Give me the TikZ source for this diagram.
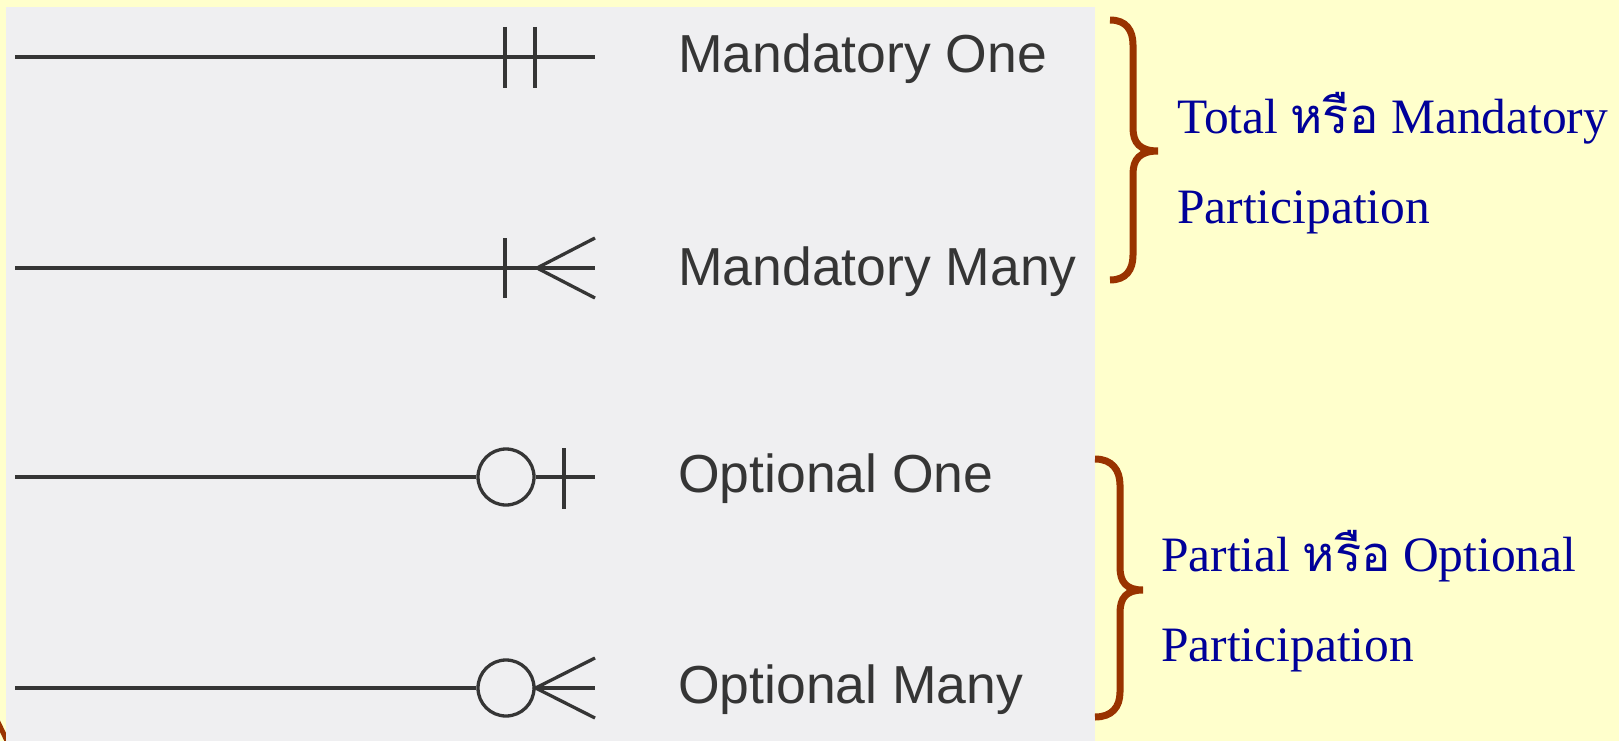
\documentclass[tikz,border=0pt]{standalone}
\usepackage{fontspec}
\setmainfont{Liberation Serif}
\newfontfamily\labelfont{Liberation Sans}
\newfontfamily\thaifont[Script=Thai]{Loma}
\definecolor{slidebg}{HTML}{FFFFCC}
\definecolor{paper}{HTML}{EFEFF1}
\definecolor{ink}{HTML}{353535}
\definecolor{bracecol}{HTML}{993300}
\definecolor{notecol}{HTML}{000099}
\newcommand{\thaiword}[1]{{\thaifont\fontsize{49}{56}\selectfont #1}}
\begin{document}
\begin{tikzpicture}[x=1pt,y=-1pt,
  symline/.style={draw=ink,line width=3.3pt},
  ring/.style={circle,draw=ink,line width=3.3pt,minimum size=56pt,inner sep=0pt},
  kind/.style={anchor=base west,inner sep=0pt,text=ink,font=\labelfont\fontsize{53.5}{60}\selectfont},
  note/.style={anchor=base west,inner sep=0pt,text=notecol,font=\fontsize{49.5}{56}\selectfont},
  bracestroke/.style={draw=bracecol,line width=7pt}]
\useasboundingbox (0,0) rectangle (1619,741);
% slide background and scanned panel
\fill[slidebg] (0,0) rectangle (1619,741);
\draw[bracecol,line width=5pt] (-3,720) -- (9,745);
\fill[paper] (6,7) rectangle (1095,741);

% --- Mandatory One ---
\coordinate (a0) at (15,57);
\coordinate (a1) at (595,57);
\coordinate (a2t) at (505,27); \coordinate (a2b) at (505,88);
\coordinate (a3t) at (535,27); \coordinate (a3b) at (535,88);
\draw[symline] (a0) -- (a1);
\draw[symline] (a2t) -- (a2b);
\draw[symline] (a3t) -- (a3b);
\node[kind] (ka) at (678,73) {Mandatory One};

% --- Mandatory Many ---
\coordinate (b0) at (15,268);
\coordinate (b1) at (595,268);
\coordinate (bbt) at (505,238); \coordinate (bbb) at (505,298);
\coordinate (bapex) at (537,268);
\coordinate (bup) at (595,238); \coordinate (bdn) at (595,298);
\draw[symline] (b0) -- (b1);
\draw[symline] (bbt) -- (bbb);
\draw[symline] (bup) -- (bapex) -- (bdn);
\node[kind] (kb) at (678,285) {Mandatory Many};

% --- Optional One ---
\coordinate (c0) at (15,477);
\coordinate (c1) at (595,477);
\node[ring] (cr) at (506,477) {};
\coordinate (cbt) at (564,448); \coordinate (cbb) at (564,509);
\draw[symline] (c0) -- (cr.west);
\draw[symline] (cr.east) -- (c1);
\draw[symline] (cbt) -- (cbb);
\node[kind] (kc) at (678,492) {Optional One};

% --- Optional Many ---
\coordinate (d0) at (15,688);
\coordinate (d1) at (595,688);
\node[ring] (dr) at (506,688) {};
\coordinate (dup) at (595,658); \coordinate (ddn) at (595,718);
\draw[symline] (d0) -- (dr.west);
\draw[symline] (dr.east) -- (d1);
\draw[symline] (dup) -- (dr.east) -- (ddn);
\node[kind] (kd) at (678,703) {Optional Many};

% --- braces ---
\draw[bracestroke] (1110,20) .. controls (1126,20) and (1133,30) .. (1133,45)
  -- (1133,128) .. controls (1133,143) and (1140,151) .. (1158,151)
  .. controls (1140,151) and (1133,159) .. (1133,174)
  -- (1133,255) .. controls (1133,270) and (1126,280) .. (1110,280);
\draw[bracestroke] (1095,459) .. controls (1112,459) and (1120,470) .. (1120,485)
  -- (1120,567) .. controls (1120,582) and (1126,590) .. (1143,590)
  .. controls (1126,590) and (1120,598) .. (1120,613)
  -- (1120,692) .. controls (1120,707) and (1112,717) .. (1095,717);

% --- notes ---
\node[note] (n1) at (1177,133) {Total \thaiword{หรือ} Mandatory};
\node[note] (n2) at (1177,223) {Participation};
\node[note] (n3) at (1161,571) {Partial \thaiword{หรือ} Optional};
\node[note] (n4) at (1161,661) {Participation};
\end{tikzpicture}
\end{document}
